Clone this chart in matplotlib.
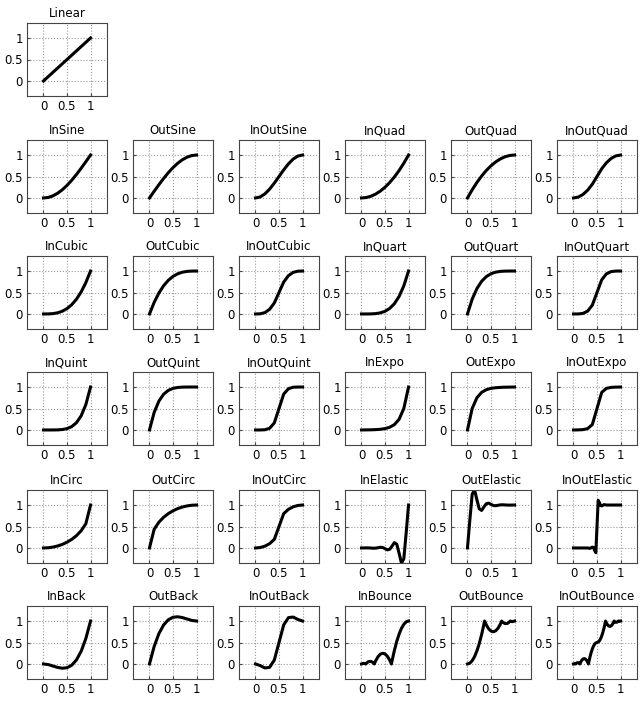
import matplotlib
matplotlib.use("Agg")
import matplotlib.pyplot as plt

X11 = [0, .1, .2, .3, .4, .5, .6, .7, .8, .9, 1]

names = ["Linear",
         "InSine", "OutSine", "InOutSine", "InQuad", "OutQuad", "InOutQuad",
         "InCubic", "OutCubic", "InOutCubic", "InQuart", "OutQuart", "InOutQuart",
         "InQuint", "OutQuint", "InOutQuint", "InExpo", "OutExpo", "InOutExpo",
         "InCirc", "OutCirc", "InOutCirc", "InElastic", "OutElastic", "InOutElastic",
         "InBack", "OutBack", "InOutBack", "InBounce", "OutBounce", "InOutBounce"]

linear = [0, .1, .2, .3, .4, .5, .6, .7, .8, .9, 1]
in_sine = [0, .012, .049, .109, .191, .293, .412, .546, .691, .844, 1]
out_sine = [0, .156, .309, .454, .588, .707, .809, .891, .951, .988, 1]
inout_sine = [0, .024, .095, .206, .345, .5, .655, .794, .905, .976, 1]
in_quad = [0, .01, .04, .09, .16, .25, .36, .49, .64, .81, 1]
out_quad = [0, .19, .36, .51, .64, .75, .84, .91, .96, .99, 1]
inout_quad = [0, .02, .08, .18, .32, .5, .68, .82, .92, .98, 1]
in_cubic = [0, .001, .008, .027, .064, .125, .216, .343, .512, .729, 1]
out_cubic = [0, .271, .488, .657, .784, .875, .936, .973, .992, .999, 1]
inout_cubic = [0, .004, .032, .108, .256, .5, .744, .892, .968, .996, 1]
in_quart = [0, .0001, .0016, .0081, .0256, .0625, .1296, .2401, .4096, .6561, 1]
out_quart = [0, .344, .590, .760, .870, .938, .974, .992, .998, 1, 1]
inout_quart = [0, .0008, .0128, .0648, .2048, .5, .795, .935, .987, .999, 1]
in_quint = [0, 0, .0003, .0024, .0102, .031, .078, .168, .328, .590, 1]
out_quint = [0, .410, .672, .832, .922, .969, .990, .998, 1, 1, 1]
inout_quint = [0, .0002, .005, .039, .164, .5, .836, .961, .995, 1, 1]
in_expo = [0, .002, .004, .008, .016, .031, .063, .125, .25, .5, 1]
out_expo = [0, .5, .75, .875, .938, .969, .984, .992, .996, .998, 1]
inout_expo = [0, .002, .008, .031, .125, .5, .875, .969, .992, .998, 1]
in_circ = [0, .005, .020, .046, .083, .134, .2, .286, .4, .564, 1]
out_circ = [0, .436, .6, .714, .8, .866, .917, .954, .98, .995, 1]
inout_circ = [0, .010, .042, .1, .2, .5, .8, .9, .958, .99, 1]
in_back = [0, -.014, -.047, -.080, -.099, -.088, -.029, .093, .294, .591, 1]
out_back = [0, .409, .706, .907, 1.029, 1.088, 1.099, 1.080, 1.047, 1.014, 1]
inout_back = [0, -.0375, -.0926, -.0789, .090, .5, .910, 1.079, 1.093, 1.0375, 1]

X21 = [0, .05, .1, .15, .2, .25, .3, .35, .4, .45, .5, .55, .6, .65, .7, .75, .8, .85, .9, .95, 1]
in_elastic = [0, .0007, .002, .0014, -.002, -.0055, -.0039, .0055, .0156, .011, -.016,
              -.044, -.031, .044, .125, .088, -.125, -.354, -.25, .354, 1]
out_elastic = [0, .646, 1.25, 1.354, 1.125, .912, .875, .956, 1.031, 1.044, 1.016,
               .989, .984, .9945, 1.004, 1.0055, 1.002, .9986, .998, .9993, 1]
inout_elastic_x = [0, .3, .35, .4, .425, .45, .475, .5, .525, .55, .575, .6, .65, .7, 1]
inout_elastic = [0, 0, -.01, .02, .01, -.06, -.11, .5, 1.11, 1.06, .99, .98, 1.01, 1, 1]

in_bounce_x = [0, .05, .091, .1, .15, .2, .25, .2727, .3, .35, .4, .45, .5, .55, .6,
               .6364, .65, .7, .75, .8, .85, .9, .95, 1]
in_bounce = [0, .015, 0, .012, .055, .06, .031, 0, .07, .167, .227, .25, .234, .181, .09,
             0, .074, .319, .527, .697, .830, .924, .981, 1]
out_bounce_x = [0, .05, .1, .15, .2, .25, .3, .35, .3636, .4, .45, .5, .55, .6, .65, .7,
                .7273, .75, .8, .85, .9, .909, .95, 1]
out_bounce = [0, .019, .076, .170, .303, .473, .681, .926, 1.0, .910, .819, .766, .750,
              .773, .833, .930, 1, .969, .940, .945, .988, 1, .985, 1]
inout_bounce_x = [0, .025, .0455, .05, .075, .1, .125, .1364, .15, .175, .2, .225, .25,
                  .275, .3, .3182, .325, .35, .375, .4, .425, .45, .475, .5,
                  .525, .55, .575, .6, .625, .65, .675, .6818, .7, .725, .75, .775, .8,
                  .825, .85, .8636, .875, .9, .925, .95, .9545, .975, 1]
inout_bounce = [0, .0075, 0, .006, .0275, .03, .0155, 0, .035, .0835, .1135, .125, .117,
                .0905, .045, 0, .037, .16, .264, .349, .415, .462, .491, .5,
                .5095, .538, .585, .652, .737, .841, .963, 1, .955, .910, .883, .875, .887,
                .917, .965, 1, .985, .970, .973, .994, 1, .993, 1]

series = [(X11, linear),
          (X11, in_sine), (X11, out_sine), (X11, inout_sine), (X11, in_quad), (X11, out_quad), (X11, inout_quad),
          (X11, in_cubic), (X11, out_cubic), (X11, inout_cubic), (X11, in_quart), (X11, out_quart), (X11, inout_quart),
          (X11, in_quint), (X11, out_quint), (X11, inout_quint), (X11, in_expo), (X11, out_expo), (X11, inout_expo),
          (X11, in_circ), (X11, out_circ), (X11, inout_circ),
          (X21, in_elastic), (X21, out_elastic), (inout_elastic_x, inout_elastic),
          (X11, in_back), (X11, out_back), (X11, inout_back),
          (in_bounce_x, in_bounce), (out_bounce_x, out_bounce), (inout_bounce_x, inout_bounce)]

W, H = 640, 701
fig = plt.figure(figsize=(W / 100, H / 100), dpi=100)
col_left = [27, 133, 239, 345, 451, 557]
row_top = [23, 140, 256, 372, 490, 606]
bw, bh = 80, 73

for i, (name, (xs, ys)) in enumerate(zip(names, series)):
    if i == 0:
        r, c = 0, 0
    else:
        r, c = 1 + (i - 1) // 6, (i - 1) % 6
    ax = fig.add_axes([col_left[c] / W, 1 - (row_top[r] + bh) / H, bw / W, bh / H])
    ax.plot(xs, ys, color="black", lw=2.2)
    ax.set_xlim(-0.35, 1.35)
    ax.set_ylim(-0.35, 1.35)
    ax.set_xticks([0, 0.5, 1])
    ax.set_yticks([0, 0.5, 1])
    ax.set_xticklabels(["0", "0.5", "1"])
    ax.set_yticklabels(["0", "0.5", "1"])
    ax.grid(True, linestyle=":", color="#999999", lw=0.8)
    ax.tick_params(direction="in", length=2, labelsize=8.5, pad=3, color="#444444")
    for s in ax.spines.values():
        s.set_color("#444444")
        s.set_linewidth(0.8)
    ax.set_title(name, fontsize=8.5, pad=4)

fig.savefig("out.png", dpi=100)
